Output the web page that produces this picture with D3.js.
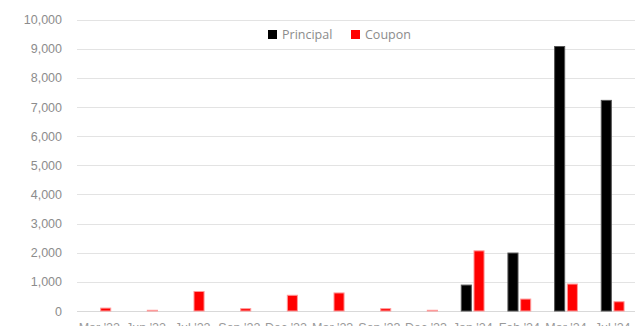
<!DOCTYPE html>
<html>
<head>
<meta charset="utf-8">
<script src="https://cdn.jsdelivr.net/npm/d3@7"></script>
<style>
  html, body { margin: 0; padding: 0; background: #fff; overflow: hidden; }
  svg { display: block; font-family: "Open Sans", "Noto Sans", sans-serif; }
</style>
</head>
<body>
<svg id="chart" width="643" height="326"></svg>
<script>
  // periods (labels are mostly clipped at the bottom of the picture)
  const periods = ["Mar '22", "Jun '22", "Jul '22", "Sep '22", "Dec '22", "Mar '23",
                   "Sep '23", "Dec '23", "Jan '24", "Feb '24", "Mar '24", "Jul '24"];
  const seriesNames = ["Principal", "Coupon"];
  const principal = [0, 0, 0, 0, 0, 0, 0, 0, 890, 1990, 9080, 7230];
  const coupon = [100, 25, 670, 80, 540, 620, 80, 25, 2065, 410, 925, 318];
  const yTicks = [0, 1000, 2000, 3000, 4000, 5000, 6000, 7000, 8000, 9000, 10000];
  const colors = ["#000000", "#ff0000"];
  const strokes = ["#555555", "#ff9a9a"];

  const svg = d3.select("#chart");
  const margin = { left: 76, right: 7, top: 19.7, bottom: 15 };
  const width = 643, height = 326;
  const plotBottom = 311;

  const y = d3.scaleLinear().domain([0, 10000]).range([plotBottom, margin.top]);
  const x0 = d3.scaleBand().domain(periods)
    .range([margin.left, width - margin.right])
    .paddingInner(0.49).paddingOuter(0.245);
  const x1 = d3.scaleBand().domain(seriesNames)
    .range([0, x0.bandwidth()]).padding(0.13).paddingOuter(0);

  // grid lines
  svg.append("g")
    .selectAll("line")
    .data(yTicks)
    .join("line")
    .attr("x1", margin.left + 1)
    .attr("x2", width - margin.right - 1)
    .attr("y1", d => Math.round(y(d)) + 0.5)
    .attr("y2", d => Math.round(y(d)) + 0.5)
    .attr("stroke", d => d === 0 ? "#d9d9d9" : "#e3e3e3")
    .attr("stroke-width", 1);

  // y axis labels
  const yAxis = d3.axisLeft(y).tickValues(yTicks).tickFormat(d3.format(",")).tickSize(0).tickPadding(0);
  const yg = svg.append("g").attr("transform", "translate(62,0)").call(yAxis);
  yg.select(".domain").remove();
  yg.selectAll("text").attr("fill", "#8c8c8c").attr("font-size", 12.5);

  // bars
  const rows = periods.map((p, i) => ({ period: p, values: [principal[i], coupon[i]] }));
  svg.append("g")
    .selectAll("g")
    .data(rows)
    .join("g")
    .attr("transform", d => `translate(${x0(d.period)},0)`)
    .selectAll("rect")
    .data(d => d.values.map((v, k) => ({ key: seriesNames[k], value: v, k })))
    .join("rect")
    .filter(d => d.value > 0)
    .attr("x", d => x1(d.key) + 0.5)
    .attr("width", x1.bandwidth() - 1)
    .attr("y", d => y(d.value))
    .attr("height", d => plotBottom - y(d.value))
    .attr("fill", d => colors[d.k])
    .attr("stroke", d => strokes[d.k])
    .attr("stroke-width", 1);

  // x labels (only the tops are visible, as in the source picture)
  const xAxis = d3.axisBottom(x0).tickSize(0).tickPadding(0);
  const xg = svg.append("g").attr("transform", "translate(0,323)").call(xAxis);
  xg.select(".domain").remove();
  xg.selectAll("text").attr("fill", "#9a9a9a").attr("font-size", 12.5).attr("dy", "0.71em");

  // legend
  const legend = svg.append("g").attr("transform", "translate(268,29)");
  const legendX = [0, 83];
  const items = legend.selectAll("g")
    .data(seriesNames)
    .join("g")
    .attr("transform", (d, i) => `translate(${legendX[i]},0)`);
  items.append("rect")
    .attr("width", 9).attr("height", 9).attr("y", 1)
    .attr("fill", (d, i) => colors[i]);
  items.append("text")
    .attr("x", 14).attr("y", 5.5).attr("dy", "0.35em")
    .attr("fill", "#8c8c8c").attr("font-size", 12.5)
    .text(d => d);
</script>
</body>
</html>
